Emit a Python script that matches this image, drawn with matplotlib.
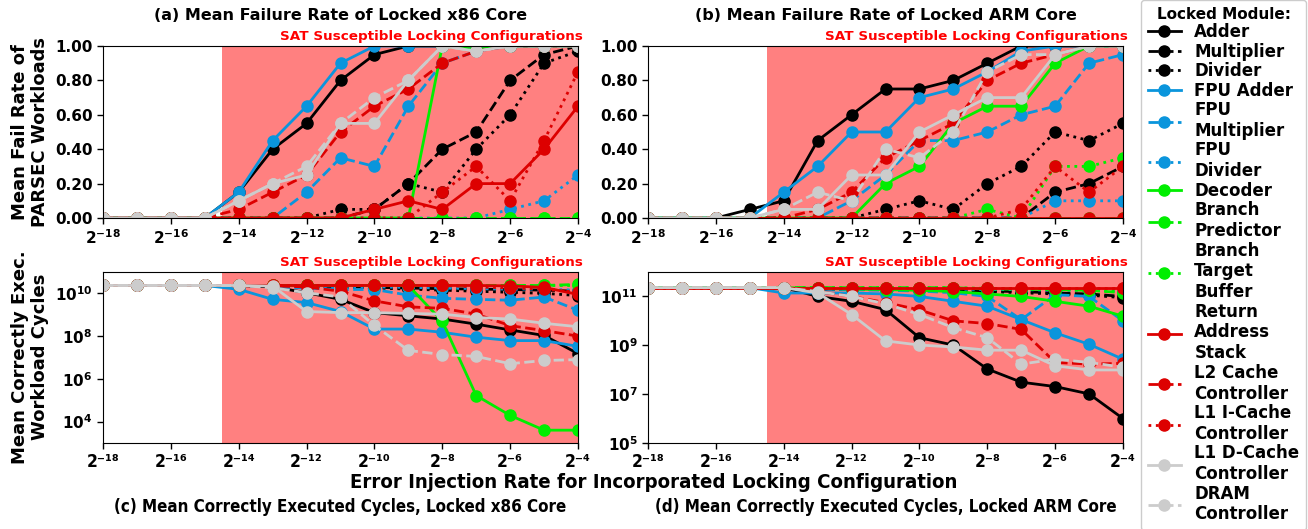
import numpy as np
import matplotlib.pyplot as plt
from matplotlib.ticker import FixedLocator, FixedFormatter, NullLocator

plt.rcParams['font.family'] = ['DejaVu Sans']
plt.rcParams['font.weight'] = 'bold'
plt.rcParams['mathtext.default'] = 'bf'

# error injection rate exponents (2^e)
exps = list(range(-18, -3))
x = [2.0 ** e for e in exps]

modules = ['Adder', 'Multiplier', 'Divider', 'FPU Adder', 'FPU\nMultiplier',
           'FPU\nDivider', 'Decoder', 'Branch\nPredictor', 'Branch\nTarget\nBuffer',
           'Return\nAddress\nStack', 'L2 Cache\nController', 'L1 I-Cache\nController',
           'L1 D-Cache\nController', 'DRAM\nController']

BLACK, BLUE, GREEN, RED, GRAY = '#000000', '#0a95dc', '#00ee00', '#dd0000', '#cccccc'
colors = [BLACK] * 3 + [BLUE] * 3 + [GREEN] * 3 + [RED] * 3 + [GRAY] * 2
styles = ['-', '--', ':'] * 4 + ['-', '--']

# (a) mean failure rate, x86
x86_fail = [
    [0, 0, 0, 0, .15, .40, .55, .80, .95, 1, 1, 1, 1, 1, 1],
    [0, 0, 0, 0, 0, 0, 0, 0, .05, .20, .40, .50, .80, .95, 1],
    [0, 0, 0, 0, 0, 0, 0, .05, .05, .20, .15, .40, .60, .90, .97],
    [0, 0, 0, 0, .15, .45, .65, .90, 1, 1, 1, 1, 1, 1, 1],
    [0, 0, 0, 0, 0, 0, .15, .35, .30, .65, .90, .97, 1, 1, 1],
    [0, 0, 0, 0, 0, 0, 0, 0, 0, 0, 0, 0, .05, .10, .25],
    [0, 0, 0, 0, 0, 0, 0, 0, 0, 0, 1, .98, 1, 1, 1],
    [0, 0, 0, 0, 0, 0, 0, 0, 0, 0, 0, 0, 0, 0, 0],
    [0, 0, 0, 0, 0, 0, 0, 0, 0, 0, 0, 0, 0, 0, 0],
    [0, 0, 0, 0, 0, 0, 0, 0, .05, .10, .05, .20, .20, .40, .65],
    [0, 0, 0, 0, .05, .15, .25, .50, .65, .75, .90, .97, 1, 1, 1],
    [0, 0, 0, 0, 0, 0, 0, 0, 0, 0, .15, .30, .10, .45, .85],
    [0, 0, 0, 0, .10, .20, .25, .55, .55, .80, 1, .97, 1, 1, 1],
    [0, 0, 0, 0, .10, .20, .30, .55, .70, .80, 1, .97, 1, 1, 1],
]

# (b) mean failure rate, ARM
arm_fail = [
    [0, 0, 0, .05, .10, .45, .60, .75, .75, .80, .90, 1, 1, 1, 1],
    [0, 0, 0, 0, 0, 0, 0, 0, 0, 0, 0, 0, .15, .20, .30],
    [0, 0, 0, 0, 0, 0, 0, .05, .10, .05, .20, .30, .50, .45, .55],
    [0, 0, 0, 0, .15, .30, .50, .50, .70, .75, .85, .97, 1, 1, 1],
    [0, 0, 0, 0, 0, 0, .10, .25, .45, .45, .50, .60, .65, .90, .95],
    [0, 0, 0, 0, 0, 0, 0, 0, 0, 0, 0, 0, .10, .10, .10],
    [0, 0, 0, 0, 0, 0, 0, .20, .30, .55, .65, .65, .90, 1, 1],
    [0, 0, 0, 0, 0, 0, 0, 0, 0, 0, 0, 0, 0, 0, 0],
    [0, 0, 0, 0, 0, 0, 0, 0, 0, 0, .05, 0, .30, .30, .35],
    [0, 0, 0, 0, 0, 0, 0, 0, 0, 0, 0, 0, 0, 0, 0],
    [0, 0, 0, 0, 0, .05, .15, .35, .45, .55, .80, .90, .95, 1, 1],
    [0, 0, 0, 0, 0, 0, 0, 0, 0, 0, 0, .05, .30, .15, .30],
    [0, 0, 0, 0, .05, .05, .25, .25, .50, .60, .70, .70, .95, 1, 1],
    [0, 0, 0, 0, .05, .15, .10, .40, .35, .50, .85, .95, .95, 1, 1],
]

# (c) log10 of mean correctly executed cycles, x86
x86_cyc = [
    [10.37] * 5 + [10.30, 10.03, 9.72, 9.10, 8.95, 8.80, 8.56, 8.29, 8.03, 7.18],
    [10.37] * 5 + [10.35, 10.33, 10.30, 10.28, 10.25, 10.22, 10.20, 10.18, 10.15, 10.10],
    [10.37] * 5 + [10.35, 10.33, 10.30, 10.25, 10.20, 10.15, 10.10, 10.05, 10.00, 9.90],
    [10.37] * 4 + [10.19, 9.72, 9.57, 9.15, 8.33, 8.33, 8.18, 7.95, 7.79, 7.79, 7.52],
    [10.37] * 5 + [10.30, 10.25, 10.18, 10.18, 9.92, 9.77, 9.72, 9.68, 9.83, 9.21],
    [10.37] * 5 + [10.35, 10.33, 10.30, 10.30, 10.28, 10.25, 10.22, 10.20, 10.20, 10.15],
    [10.37] * 10 + [8.69, 5.22, 4.29, 3.60, 3.60],
    [10.37] * 14 + [10.42],
    [10.37] * 15,
    [10.37] * 12 + [10.35, 10.28, 9.95],
    [10.37] * 5 + [10.35, 10.30, 10.10, 9.65, 9.37, 9.30, 9.03, 8.49, 8.26, 8.00],
    [10.37] * 11 + [10.30, 10.25, 10.20, 10.05],
    [10.37] * 5 + [10.34, 9.15, 9.10, 9.10, 9.06, 9.03, 8.87, 8.80, 8.60, 8.44],
    [10.37] * 5 + [10.26, 10.03, 9.83, 8.50, 7.33, 7.14, 7.05, 6.71, 6.86, 6.90],
]

# (d) log10 of mean correctly executed cycles, ARM
arm_cyc = [
    [11.36] * 5 + [11.00, 10.80, 10.46, 9.31, 9.01, 8.03, 7.49, 7.31, 7.01, 6.00],
    [11.36] * 5 + [11.30, 11.30, 11.28, 11.25, 11.25, 11.22, 11.20, 11.14, 11.10, 11.00],
    [11.36] * 5 + [11.30, 11.30, 11.28, 11.25, 11.22, 11.20, 11.15, 11.10, 11.05, 10.95],
    [11.36] * 4 + [11.14, 11.14, 11.14, 11.10, 11.00, 10.80, 10.60, 10.05, 9.51, 9.04, 8.43],
    [11.36] * 5 + [11.30, 11.28, 11.25, 11.22, 11.15, 11.00, 10.05, 11.07, 11.00, 10.00],
    [11.36] * 5 + [11.33, 11.33, 11.32, 11.30, 11.30, 11.28, 11.28, 11.25, 11.25, 11.20],
    [11.36] * 5 + [11.33, 11.30, 11.28, 11.25, 11.20, 11.10, 11.00, 10.80, 10.60, 10.19],
    [11.36] * 10 + [11.30, 11.30, 11.28, 11.25, 11.15],
    [11.36] * 10 + [11.33, 11.30, 11.28, 11.25, 11.20],
    [11.36] * 15,
    [11.36] * 5 + [11.20, 11.00, 10.75, 10.45, 10.00, 9.89, 9.65, 8.30, 8.23, 8.26],
    [11.36] * 15,
    [11.36] * 5 + [11.14, 10.26, 9.18, 9.01, 8.93, 8.80, 8.80, 8.16, 7.99, 7.99],
    [11.36] * 5 + [11.20, 11.00, 10.70, 10.26, 9.72, 9.31, 8.23, 8.43, 8.30, 8.10],
]

xticks = [2.0 ** e for e in range(-18, -3, 2)]
xlabels = [r'$2^{%d}$' % e for e in range(-18, -3, 2)]
SUP = str.maketrans('-0123456789', '⁻⁰¹²³⁴⁵⁶⁷⁸⁹')
xlabels_cond = ['2' + str(e).translate(SUP) for e in range(-18, -3, 2)]

W, H = 1308, 529
fig = plt.figure(figsize=(W / 100, H / 100), dpi=100)

def px_axes(left, top, right, bottom):
    return fig.add_axes([left / W, 1 - bottom / H, (right - left) / W, (bottom - top) / H])

ax_a = px_axes(103, 46, 578, 218)
ax_b = px_axes(648, 46, 1123, 218)
ax_c = px_axes(103, 272, 578, 443)
ax_d = px_axes(648, 272, 1123, 443)

def draw(ax, rows, log=False):
    ax.axvspan(2 ** -14.5, 2 ** -4, color='#ff8080', lw=0, zorder=0)
    lines = []
    for vals, c, ls, name in zip(rows, colors, styles, modules):
        y = 10 ** np.array(vals) if log else vals
        [ln] = ax.plot(x, y, color=c, ls=ls, lw=2, marker='o', ms=8, label=name, zorder=2)
        lines.append(ln)
    ax.set_xscale('log', base=2)
    ax.set_xlim(2 ** -18, 2 ** -4)
    ax.xaxis.set_major_locator(FixedLocator(xticks))
    ax.xaxis.set_minor_locator(NullLocator())
    ax.tick_params(direction='out', length=4, width=1, labelsize=11)
    ax.text(1.01, 1.02, 'SAT Susceptible Locking Configurations', transform=ax.transAxes,
            ha='right', va='bottom', color='red', fontsize=9.7)
    return lines

handles = draw(ax_a, x86_fail)
draw(ax_b, arm_fail)
draw(ax_c, x86_cyc, log=True)
draw(ax_d, arm_cyc, log=True)

for ax in (ax_a, ax_b):
    ax.xaxis.set_major_formatter(FixedFormatter(xlabels))
    ax.set_ylim(0, 1)
    ax.set_yticks([0, .2, .4, .6, .8, 1.0])
    ax.set_yticklabels(['%.2f' % v for v in [0, .2, .4, .6, .8, 1.0]])

ax_c.set_yscale('log')
ax_c.set_ylim(1e3, 1e11)
ax_c.yaxis.set_major_locator(FixedLocator([1e4, 1e6, 1e8, 1e10]))
ax_c.yaxis.set_major_formatter(FixedFormatter([r'$10^{4}$', r'$10^{6}$', r'$10^{8}$', r'$10^{10}$']))
ax_d.set_yscale('log')
ax_d.set_ylim(1e5, 1e12)
ax_d.yaxis.set_major_locator(FixedLocator([1e5, 1e7, 1e9, 1e11]))
ax_d.yaxis.set_major_formatter(FixedFormatter([r'$10^{5}$', r'$10^{7}$', r'$10^{9}$', r'$10^{11}$']))
for ax in (ax_c, ax_d):
    ax.yaxis.set_minor_locator(NullLocator())
    ax.xaxis.set_major_formatter(FixedFormatter(xlabels_cond))

ax_a.text(0.5, 1 + 30 / 172, '(a) Mean Failure Rate of Locked x86 Core', transform=ax_a.transAxes,
          ha='center', va='center', fontsize=11.5)
ax_b.text(0.5, 1 + 30 / 172, '(b) Mean Failure Rate of Locked ARM Core', transform=ax_b.transAxes,
          ha='center', va='center', fontsize=11.5)
ax_c.text(0.5, -64 / 171, '(c) Mean Correctly Executed Cycles, Locked x86 Core', transform=ax_c.transAxes,
          ha='center', va='center', fontsize=12.2, fontstretch='condensed')
ax_d.text(0.5, -64 / 171, '(d) Mean Correctly Executed Cycles, Locked ARM Core', transform=ax_d.transAxes,
          ha='center', va='center', fontsize=12.2, fontstretch='condensed')

fig.text(0.5, 1 - 483 / H, 'Error Injection Rate for Incorporated Locking Configuration',
         ha='center', va='center', fontsize=14.6, fontstretch='condensed')
fig.text(30 / W, 1 - 132 / H, 'Mean Fail Rate of\nPARSEC Workloads', rotation=90,
         ha='center', va='center', multialignment='center', fontsize=13)
fig.text(30 / W, 1 - 357 / H, 'Mean Correctly Exec.\nWorkload Cycles', rotation=90,
         ha='center', va='center', multialignment='center', fontsize=13)

leg = fig.legend(handles=handles, labels=modules, loc='upper left',
                 bbox_to_anchor=(1141 / W, 1.0), borderaxespad=0,
                 title='Locked Module:', prop={'weight': 'bold', 'size': 12},
                 title_fontproperties={'weight': 'bold', 'size': 11},
                 labelspacing=0.09, handlelength=2.0, framealpha=1, edgecolor='#cccccc')

# bottom row uses the narrow face for its x tick labels (set after ticks exist)
fig.canvas.draw()
for ax in (ax_c, ax_d):
    for lbl in ax.get_xticklabels():
        lbl.set_fontstretch('condensed')
        lbl.set_fontsize(12.5)

fig.savefig('out.png', dpi=100)
